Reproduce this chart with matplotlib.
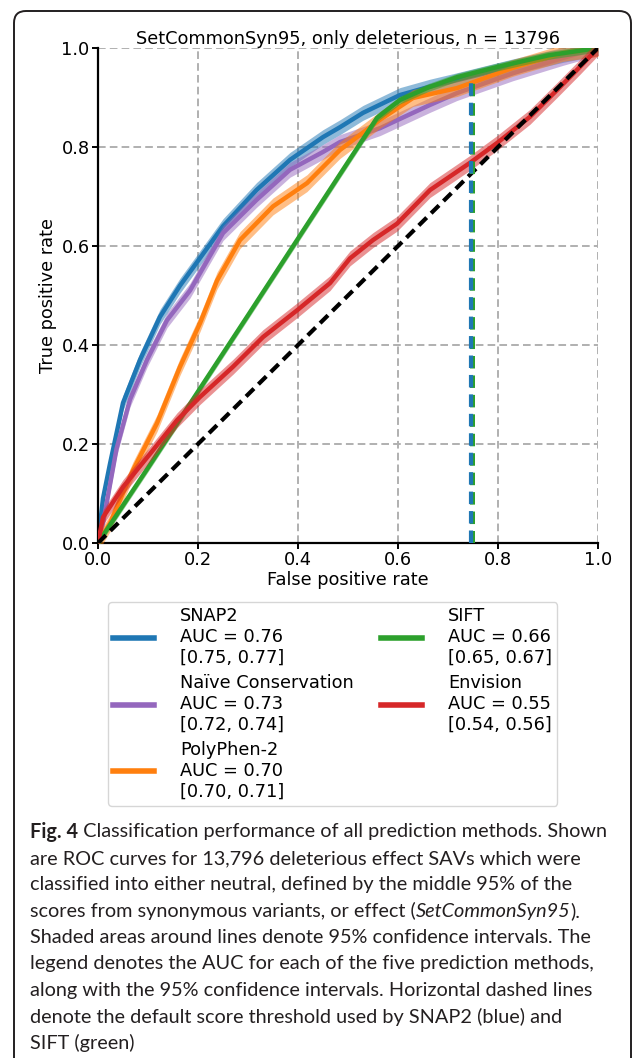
import matplotlib

matplotlib.use("Agg")
import matplotlib.pyplot as plt
from matplotlib.patches import FancyBboxPatch
import numpy as np

TITLE = "SetCommonSyn95, only deleterious, n = 13796"
METHODS = ["SNAP2", "Naïve Conservation", "PolyPhen-2", "SIFT", "Envision"]
AUC = [0.76, 0.73, 0.70, 0.66, 0.55]
AUC_LO = [0.75, 0.72, 0.70, 0.65, 0.54]
AUC_HI = [0.77, 0.74, 0.71, 0.67, 0.56]
COLORS = ["#1f77b4", "#9467bd", "#ff7f0e", "#2ca02c", "#d62728"]

# ROC curves (FPR, TPR)
SNAP2_FPR = [0, 0.01, 0.024, 0.05, 0.084, 0.124, 0.164, 0.2, 0.25, 0.317, 0.384, 0.45, 0.484, 0.53, 0.604, 0.664, 0.718, 0.83, 0.93, 1.0]
SNAP2_TPR = [0, 0.09, 0.16, 0.283, 0.37, 0.457, 0.52, 0.57, 0.64, 0.713, 0.774, 0.82, 0.84, 0.869, 0.905, 0.922, 0.935, 0.963, 0.986, 1.0]
NAIVE_FPR = [0, 0.01, 0.037, 0.064, 0.098, 0.138, 0.184, 0.25, 0.317, 0.384, 0.45, 0.484, 0.564, 0.664, 0.718, 0.83, 0.93, 1.0]
NAIVE_TPR = [0, 0.04, 0.19, 0.29, 0.37, 0.45, 0.51, 0.626, 0.693, 0.754, 0.79, 0.81, 0.838, 0.885, 0.909, 0.949, 0.98, 1.0]
POLY_FPR = [0, 0.024, 0.07, 0.118, 0.164, 0.204, 0.238, 0.284, 0.35, 0.418, 0.484, 0.564, 0.63, 0.718, 0.83, 0.93, 1.0]
POLY_TPR = [0, 0.04, 0.147, 0.242, 0.356, 0.444, 0.53, 0.612, 0.68, 0.727, 0.794, 0.855, 0.899, 0.919, 0.96, 0.99, 1.0]
SIFT_FPR = [0, 0.1, 0.2, 0.3, 0.4, 0.484, 0.558, 0.604, 0.66, 0.718, 0.8, 0.9, 1.0]
SIFT_TPR = [0, 0.152, 0.306, 0.46, 0.615, 0.745, 0.859, 0.895, 0.92, 0.941, 0.962, 0.985, 1.0]
ENV_FPR = [0, 0.01, 0.05, 0.104, 0.158, 0.204, 0.27, 0.33, 0.398, 0.464, 0.504, 0.55, 0.598, 0.664, 0.744, 0.798, 0.864, 0.918, 0.964, 1.0]
ENV_TPR = [0, 0.052, 0.113, 0.18, 0.248, 0.295, 0.356, 0.416, 0.47, 0.525, 0.575, 0.612, 0.645, 0.713, 0.768, 0.808, 0.861, 0.915, 0.962, 1.0]
CI_HALF = [0.015, 0.015, 0.017, 0.008, 0.015]

# default score thresholds (SIFT drawn first, SNAP2 on top)
THRESH_FPR = [0.748, 0.746]
THRESH_TPR = [0.94, 0.94]
THRESH_COLORS = ["#2ca02c", "#1f77b4"]
THRESH_LW = [3.6, 3.0]

CAPTION = [
    [("Fig. 4", "bold"), (" Classification performance of all prediction methods. Shown", "normal")],
    [("are ROC curves for 13,796 deleterious effect SAVs which were", "normal")],
    [("classified into either neutral, defined by the middle 95% of the", "normal")],
    [("scores from synonymous variants, or effect (", "normal"), ("SetCommonSyn95", "italic"), (").", "normal")],
    [("Shaded areas around lines denote 95% confidence intervals. The", "normal")],
    [("legend denotes the AUC for each of the five prediction methods,", "normal")],
    [("along with the 95% confidence intervals. Horizontal dashed lines", "normal")],
    [("denote the default score threshold used by SNAP2 (blue) and", "normal")],
    [("SIFT (green)", "normal")],
]

W, H, DPI = 633, 1058, 100
FS = 12.8


def main() -> None:
    plt.rcParams.update({"font.family": "DejaVu Sans", "font.size": FS, "lines.scale_dashes": False})
    fig = plt.figure(figsize=(W / DPI, H / DPI), dpi=DPI)
    ax = fig.add_axes([98 / W, 1 - 543 / H, 500 / W, 495 / H])

    curves = [
        (SNAP2_FPR, SNAP2_TPR),
        (NAIVE_FPR, NAIVE_TPR),
        (POLY_FPR, POLY_TPR),
        (SIFT_FPR, SIFT_TPR),
        (ENV_FPR, ENV_TPR),
    ]
    for i, ((fpr, tpr), color) in enumerate(zip(curves, COLORS)):
        fpr = np.array(fpr)
        tpr = np.array(tpr)
        ax.fill_between(fpr, tpr - CI_HALF[i], tpr + CI_HALF[i], color=color, alpha=0.5, lw=0, zorder=2 + i)
        label = f"{METHODS[i]}\nAUC = {AUC[i]:.2f}\n[{AUC_LO[i]:.2f}, {AUC_HI[i]:.2f}]"
        ax.plot(fpr, tpr, color=color, lw=3.2, label=label, zorder=2.5 + i, solid_joinstyle="round")

    ax.plot([0, 1], [0, 1], color="black", lw=3, dashes=(8, 4.5), zorder=10)
    for x, y, c, lw in zip(THRESH_FPR, THRESH_TPR, THRESH_COLORS, THRESH_LW):
        ax.plot([x, x], [0, y], color=c, lw=lw, dashes=(9, 5), zorder=11)

    ax.set_xlim(0, 1)
    ax.set_ylim(0, 1)
    ticks = [0.0, 0.2, 0.4, 0.6, 0.8, 1.0]
    ax.set_xticks(ticks)
    ax.set_yticks(ticks)
    ax.set_xticklabels([f"{t:.1f}" for t in ticks])
    ax.set_yticklabels([f"{t:.1f}" for t in ticks])
    ax.grid(True, color="#b0b0b0", lw=1.4, dashes=(5.5, 3))
    ax.set_axisbelow(True)
    for side in ("top", "right"):
        ax.spines[side].set_visible(False)
    for side in ("left", "bottom"):
        ax.spines[side].set_linewidth(1.6)
    ax.tick_params(length=4, width=1.4, pad=2)
    ax.set_xlabel("False positive rate", labelpad=1)
    ax.set_ylabel("True positive rate", labelpad=3)
    ax.set_title(TITLE, fontsize=FS, pad=3)

    handles, labels = ax.get_legend_handles_labels()
    leg = fig.legend(
        handles,
        labels,
        loc="upper left",
        bbox_to_anchor=(108 / W, 1 - 602 / H),
        borderaxespad=0,
        ncol=2,
        fontsize=FS,
        handlelength=2.3,
        handletextpad=1.45,
        columnspacing=1.55,
        labelspacing=0.4,
        borderpad=0.3,
        fancybox=True,
        edgecolor="#cccccc",
    )
    for line in leg.get_lines():
        line.set_linewidth(4)

    # outer frame with rounded corners, bottom cut off by the figure
    frame = FancyBboxPatch(
        (14 / DPI, -0.3),
        (631 - 14) / DPI,
        (H - 11) / DPI + 0.3,
        boxstyle="round,pad=0,rounding_size=0.12",
        transform=fig.dpi_scale_trans,
        fill=False,
        edgecolor="#231f20",
        lw=1.4,
        clip_on=False,
    )
    fig.patches.append(frame)

    # caption, built piece by piece so bold/italic parts sit inline
    y = 1 - 832 / H
    for line in CAPTION:
        last = None
        for text, style in line:
            kw = dict(fontsize=14.3, family="Lato", color="#231f20", va="center", ha="left")
            if style == "bold":
                kw["weight"] = "bold"
            if style == "italic":
                kw["style"] = "italic"
            if last is None:
                last = fig.text(30 / W, y, text, **kw)
            else:
                last = ax.annotate(text, xy=(1, 0.5), xycoords=last, annotation_clip=False, **kw)
        y -= 26.4 / H

    fig.savefig("out.png", dpi=DPI)


if __name__ == "__main__":
    main()
